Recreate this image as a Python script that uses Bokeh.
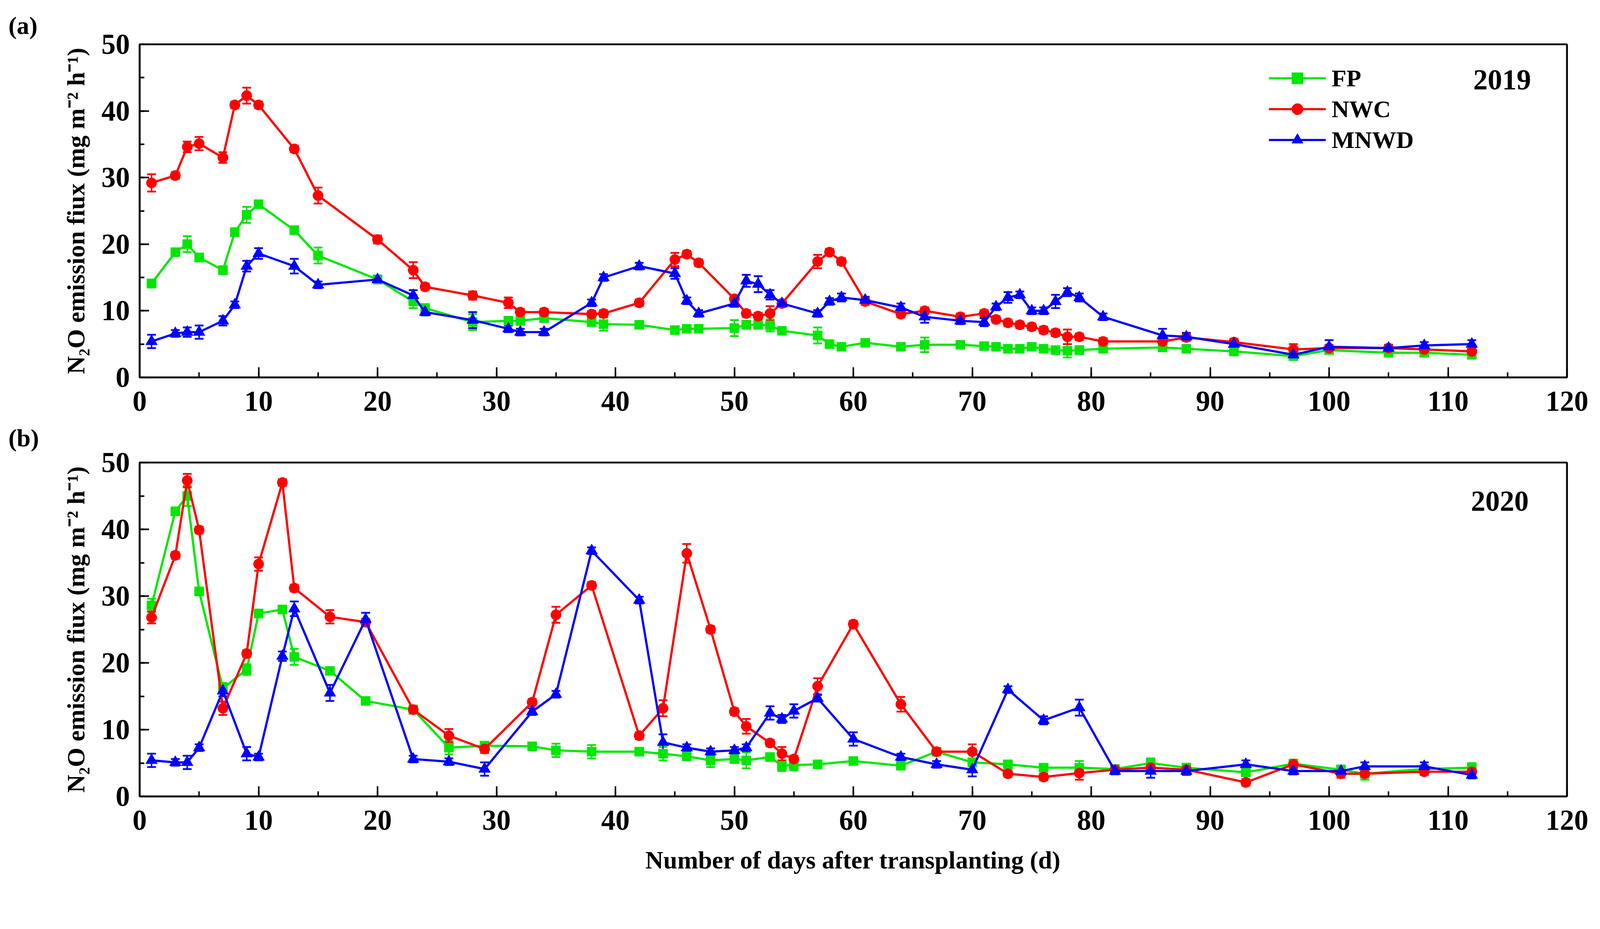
from bokeh.plotting import figure
from bokeh.models import (Range1d, SingleIntervalTicker, ColumnDataSource, Whisker, TeeHead,
                          Legend, LegendItem, Label)
from bokeh.layouts import column
from bokeh.embed import file_html
from bokeh.resources import INLINE

# ---------------- data ----------------
days_2019 = [1, 3, 4, 5, 7, 8, 9, 10, 13, 15, 20, 23, 24, 28, 31, 32, 34, 38, 39, 42, 45, 46, 47,
             50, 51, 52, 53, 54, 57, 58, 59, 61, 64, 66, 69, 71, 72, 73, 74, 75, 76, 77, 78, 79,
             81, 86, 88, 92, 97, 100, 105, 108, 112]
fp_2019 = [14.1, 18.8, 20.0, 18.0, 16.1, 21.8, 24.4, 26.0, 22.1, 18.3, 14.7, 11.4, 10.4, 8.3, 8.5,
           8.5, 8.9, 8.3, 8.0, 7.9, 7.1, 7.3, 7.3, 7.4, 7.9, 7.9, 7.8, 7.0, 6.3, 5.0, 4.6, 5.2, 4.6,
           4.9, 4.9, 4.7, 4.6, 4.3, 4.3, 4.6, 4.3, 4.1, 4.0, 4.1, 4.3, 4.5, 4.3, 3.9, 3.2, 4.1, 3.7,
           3.7, 3.4]
fp_2019_err = [0.6, 0.5, 1.2, 0.6, 0.6, 0.6, 1.2, 0.5, 0.5, 1.2, 0.5, 1.0, 0.6, 1.2, 0.6, 0.6, 0.5,
               0.5, 1.0, 0.4, 0.5, 0.5, 0.5, 1.2, 0.6, 0.6, 0.9, 0.5, 1.2, 0.5, 0.5, 0.5, 0.5, 1.1,
               0.5, 0.5, 0.5, 0.4, 0.4, 0.4, 0.4, 0.5, 1.0, 0.6, 0.5, 0.5, 0.5, 0.5, 0.5, 0.5, 0.5,
               0.5, 0.5]
nwc_2019 = [29.2, 30.3, 34.6, 35.1, 33.0, 40.9, 42.3, 40.9, 34.3, 27.3, 20.7, 16.1, 13.6, 12.3, 11.2,
            9.8, 9.8, 9.5, 9.6, 11.2, 17.7, 18.5, 17.2, 11.8, 9.6, 9.2, 9.6, 11.1, 17.4, 18.8, 17.4,
            11.4, 9.5, 10.0, 9.1, 9.6, 8.7, 8.2, 7.9, 7.6, 7.1, 6.7, 6.1, 6.1, 5.4, 5.4, 6.0, 5.3,
            4.2, 4.4, 4.4, 4.2, 3.9]
nwc_2019_err = [1.3, 0.5, 0.8, 1.0, 0.8, 0.5, 1.2, 0.5, 0.5, 1.2, 0.6, 1.2, 0.5, 0.6, 0.8, 0.5, 0.5,
                0.5, 0.5, 0.5, 1.0, 0.5, 0.5, 0.5, 0.5, 0.5, 1.1, 0.5, 1.0, 0.5, 0.5, 0.5, 0.5, 0.5,
                0.5, 0.5, 0.5, 0.5, 0.5, 0.5, 0.5, 0.5, 1.1, 0.5, 0.5, 0.5, 0.5, 0.5, 0.8, 0.5, 0.5,
                0.5, 0.5]
mnwd_2019 = [5.4, 6.6, 6.8, 6.8, 8.5, 10.9, 16.7, 18.6, 16.7, 13.9, 14.7, 12.3, 9.8, 8.6, 7.3, 6.8,
             6.8, 11.2, 15.0, 16.7, 15.6, 11.5, 9.6, 11.1, 14.5, 14.0, 12.4, 11.1, 9.6, 11.4, 12.0,
             11.6, 10.5, 9.1, 8.5, 8.3, 10.6, 12.0, 12.4, 10.0, 10.0, 11.4, 12.8, 12.0, 9.1, 6.3,
             6.1, 5.0, 3.4, 4.6, 4.4, 4.8, 5.0]
mnwd_2019_err = [1.0, 0.5, 0.7, 1.0, 0.7, 0.5, 0.8, 0.8, 1.1, 0.5, 0.6, 0.8, 0.5, 1.2, 0.5, 0.5, 0.5,
                 0.5, 0.5, 0.5, 0.8, 0.5, 0.5, 0.5, 0.9, 1.2, 0.7, 0.5, 0.5, 0.5, 0.6, 0.5, 0.6,
                 0.9, 0.5, 0.6, 0.5, 0.8, 0.5, 0.5, 0.5, 1.0, 0.6, 0.6, 0.5, 1.0, 0.6, 0.6, 0.5,
                 1.0, 0.5, 0.5, 0.6]

days_2020 = [1, 3, 4, 5, 7, 9, 10, 12, 13, 16, 19, 23, 26, 29, 33, 35, 38, 42, 44, 46, 48, 50, 51,
             53, 54, 55, 57, 60, 64, 67, 70, 73, 76, 79, 82, 85, 88, 93, 97, 101, 103, 108, 112]
fp_2020 = [28.6, 42.7, 45.0, 30.7, 16.2, 19.0, 27.4, 28.0, 20.9, 18.8, 14.3, 13.0, 7.3, 7.6, 7.5,
           6.9, 6.7, 6.7, 6.4, 6.0, 5.4, 5.6, 5.4, 5.9, 4.6, 4.7, 4.8, 5.3, 4.6, 6.7, 5.1, 4.8,
           4.3, 4.3, 4.1, 5.0, 4.3, 3.6, 4.9, 4.0, 3.4, 4.1, 4.3]
fp_2020_err = [1.0, 0.5, 1.5, 0.5, 0.8, 0.8, 0.5, 0.5, 1.2, 0.5, 0.5, 0.5, 1.0, 0.5, 0.5, 1.0, 1.0,
               0.5, 1.0, 0.5, 1.0, 0.6, 1.2, 0.5, 0.8, 0.8, 0.5, 0.5, 0.5, 0.5, 0.6, 0.5, 0.5, 1.0,
               0.5, 0.7, 0.6, 0.5, 0.6, 0.6, 0.9, 0.5, 0.7]
nwc_2020 = [26.8, 36.1, 47.3, 39.9, 13.2, 21.4, 34.8, 47.0, 31.2, 26.9, 26.1, 13.0, 9.1, 7.1, 14.1,
            27.2, 31.6, 9.1, 13.2, 36.4, 25.0, 12.7, 10.5, 8.0, 6.4, 5.6, 16.5, 25.8, 13.8, 6.7,
            6.7, 3.4, 2.9, 3.5, 4.0, 4.3, 4.0, 2.1, 4.8, 3.4, 3.4, 3.7, 3.7]
nwc_2020_err = [0.9, 0.5, 1.0, 0.5, 1.0, 0.5, 1.0, 0.5, 0.5, 1.0, 0.5, 0.6, 1.0, 0.6, 0.5, 1.2, 0.5,
                0.5, 1.2, 1.4, 0.5, 0.5, 1.1, 0.5, 1.0, 0.5, 1.2, 0.5, 1.1, 0.5, 1.1, 0.5, 0.5, 1.0,
                0.5, 0.5, 0.8, 0.5, 0.7, 0.6, 0.5, 0.5, 0.9]
mnwd_2020 = [5.4, 5.1, 5.1, 7.3, 15.8, 6.4, 5.9, 21.0, 28.1, 15.5, 26.5, 5.6, 5.2, 4.1, 12.7, 15.3,
             36.8, 29.4, 8.1, 7.3, 6.7, 6.9, 7.3, 12.5, 11.6, 12.8, 14.7, 8.6, 5.9, 4.8, 4.0, 16.0,
             11.4, 13.3, 3.8, 3.8, 3.8, 4.8, 3.8, 3.8, 4.5, 4.5, 3.2]
mnwd_2020_err = [1.0, 0.5, 1.0, 0.5, 0.8, 1.0, 0.5, 0.7, 1.1, 1.2, 1.0, 0.5, 0.5, 1.0, 0.5, 0.5, 0.5,
                 0.5, 1.2, 0.5, 0.5, 0.5, 0.5, 1.0, 0.6, 1.0, 0.5, 1.0, 0.5, 0.5, 1.0, 0.5, 0.6,
                 1.2, 0.5, 1.0, 0.5, 0.6, 0.5, 0.8, 0.6, 0.6, 0.5]

series_names = ["FP", "NWC", "MNWD"]
panel_labels = ["(a)", "(b)"]
year_labels = ["2019", "2020"]
x_title = "Number of days after transplanting (d)"
y_title = "N\u2082O emission fiux (mg m\u207b\u00b2 h\u207b\u00b9)"

# ---------------- style ----------------
FONT = "Liberation Serif"
COLORS = {"FP": "#00e600", "NWC": "#ff0000", "MNWD": "#0000ff"}
MARKERS = {"FP": "square", "NWC": "circle", "MNWD": "triangle"}
SIZES = {"FP": 23.5, "NWC": 26.5, "MNWD": 30}
TICK_FS = "73px"
TITLE_FS = "64px"


def make_fig(frame_h, top, bottom, xlabel):
    p = figure(output_backend="svg", toolbar_location=None,
               frame_width=3654, frame_height=frame_h,
               min_border_left=357, min_border_right=69,
               min_border_top=top, min_border_bottom=bottom,
               x_range=Range1d(0, 120), y_range=Range1d(0, 50),
               background_fill_color="white", border_fill_color="white")
    p.xgrid.visible = False
    p.ygrid.visible = False
    p.outline_line_color = "black"
    p.outline_line_width = 4.7
    p.outline_line_alpha = 1
    for ax, tin, mtin in ((p.xaxis, 26, 13), (p.yaxis, 24, 12)):
        ax.axis_line_width = 4.7
        ax.major_tick_line_width = 3.8
        ax.minor_tick_line_width = 3.8
        ax.major_tick_in = tin
        ax.major_tick_out = 0
        ax.minor_tick_in = mtin
        ax.minor_tick_out = 0
        ax.major_label_text_font = FONT
        ax.major_label_text_font_style = "bold"
        ax.major_label_text_font_size = TICK_FS
        ax.major_label_text_color = "black"
        ax.axis_label_text_font = FONT
        ax.axis_label_text_font_style = "bold"
        ax.axis_label_text_font_size = TITLE_FS
        ax.axis_label_text_color = "black"
    p.xaxis.ticker = SingleIntervalTicker(interval=10, num_minor_ticks=2)
    p.yaxis.ticker = SingleIntervalTicker(interval=10, num_minor_ticks=2)
    p.xaxis.major_label_standoff = 36
    p.yaxis.major_label_standoff = 25
    p.yaxis.axis_label = y_title
    p.yaxis.axis_label_standoff = 27
    if xlabel:
        p.xaxis.axis_label = xlabel
        p.xaxis.axis_label_standoff = 39
    return p


def panel_title(p, text, standoff):
    p.title.text = text
    p.title.align = "left"
    p.title.offset = -336
    p.title.standoff = standoff
    p.title.text_font = FONT
    p.title.text_font_style = "bold"
    p.title.text_font_size = "64px"
    p.title.text_color = "black"


def add_series(p, days, vals, errs, name):
    c = COLORS[name]
    src = ColumnDataSource(dict(x=days, y=vals,
                                up=[v + e for v, e in zip(vals, errs)],
                                lo=[v - e for v, e in zip(vals, errs)]))
    w = Whisker(source=src, base="x", upper="up", lower="lo", line_color=c, line_width=3.8,
                upper_head=TeeHead(size=22.5, line_color=c, line_width=4.5),
                lower_head=TeeHead(size=22.5, line_color=c, line_width=4.5))
    p.add_layout(w)
    ln = p.line("x", "y", source=src, line_color=c, line_width=5.7)
    sc = p.scatter("x", "y", source=src, marker=MARKERS[name], size=SIZES[name],
                   fill_color=c, line_color=c)
    return [ln, sc]


def year_label(p, text, x, y):
    p.add_layout(Label(x=x, y=y, x_units="screen", y_units="screen", text=text,
                       text_font=FONT, text_font_style="bold", text_font_size="74px",
                       text_align="right", text_baseline="middle", text_color="black"))


# ---------------- panel (a) ----------------
p1 = make_fig(853, 113, 114, None)
panel_title(p1, panel_labels[0], 25)

r_fp = add_series(p1, days_2019, fp_2019, fp_2019_err, "FP")
r_nwc = add_series(p1, days_2019, nwc_2019, nwc_2019_err, "NWC")
r_mnwd = add_series(p1, days_2019, mnwd_2019, mnwd_2019_err, "MNWD")

legend = Legend(items=[LegendItem(label=series_names[0], renderers=r_fp),
                       LegendItem(label=series_names[1], renderers=r_nwc),
                       LegendItem(label=series_names[2], renderers=r_mnwd)],
                location=(2891, 572), orientation="vertical",
                label_text_font=FONT, label_text_font_style="bold",
                label_text_font_size="62px", label_text_color="black",
                glyph_width=146, glyph_height=72, label_height=72, spacing=7,
                padding=0, margin=0, label_standoff=15,
                background_fill_alpha=0, border_line_alpha=0)
p1.add_layout(legend)
year_label(p1, year_labels[0], 3562, 762)

# ---------------- panel (b) ----------------
# its top border (holding the "(b)" label) slides under the empty lower edge of panel (a)
p2 = make_fig(855, 122, 200, x_title)
p2.border_fill_alpha = 0
p2.margin = (-24, 0, 0, 0)
panel_title(p2, panel_labels[1], 55)
add_series(p2, days_2020, fp_2020, fp_2020_err, "FP")
add_series(p2, days_2020, nwc_2020, nwc_2020_err, "NWC")
add_series(p2, days_2020, mnwd_2020, mnwd_2020_err, "MNWD")
year_label(p2, year_labels[1], 3556, 756)

layout = column(p1, p2, spacing=0)
open("out.html", "w").write(file_html(layout, INLINE))
